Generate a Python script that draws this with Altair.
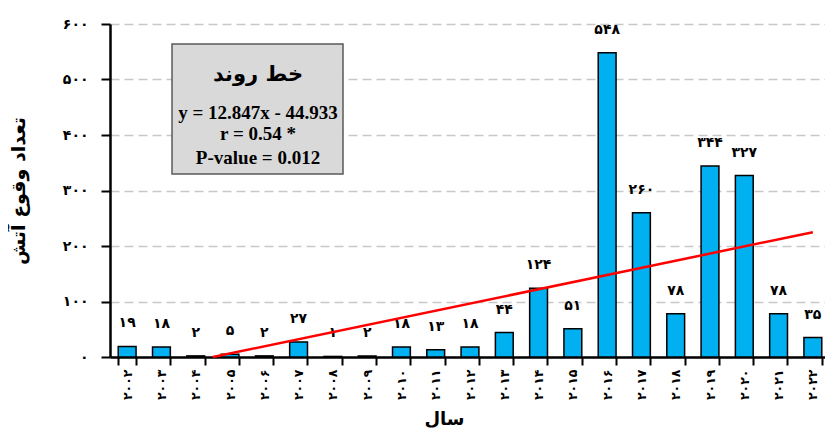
import altair as alt
import pandas as pd

# ---- data ----
years = [2002, 2003, 2004, 2005, 2006, 2007, 2008, 2009, 2010, 2011, 2012,
         2013, 2014, 2015, 2016, 2017, 2018, 2019, 2020, 2021, 2022]
counts = [19, 18, 2, 5, 2, 27, 1, 2, 18, 13, 18,
          44, 124, 51, 548, 260, 78, 344, 327, 78, 35]
y_ticks = [0, 100, 200, 300, 400, 500, 600]

# trend line (y = 12.847x - 44.933), drawn from where it meets zero to the last year
trend_x = [3.5, 21.0]
trend_y = [0.0, 224.9]

box_title = "خط روند"
box_lines = ["y = 12.847x - 44.933", "r = 0.54 *", "P-value = 0.012"]
y_title = "تعداد وقوع آتش"
x_title = "سال"

FA = str.maketrans("0123456789", "۰۱۲۳۴۵۶۷۸۹")


def fa(v):
    return str(v).translate(FA)


df = pd.DataFrame({
    "year_fa": [fa(y) for y in years],
    "count": counts,
    "count_fa": [fa(c) for c in counts],
})
trend = pd.DataFrame({"x": trend_x, "y": trend_y})

label_map = "{" + ",".join("'%d':'%s'" % (t, fa(t)) for t in y_ticks) + "}"

PFONT = "DejaVu Sans"
W, H = 720, 333

x_scale = alt.Scale(paddingInner=0.48, paddingOuter=0.24)
year_sort = [fa(y) for y in years]

x_band = alt.X(
    "year_fa:N",
    sort=year_sort,
    scale=x_scale,
    axis=alt.Axis(
        orient="bottom",
        title=x_title,
        titleFont=PFONT, titleFontSize=18, titleFontWeight="bold",
        titleX=334, titleY=62, titleBaseline="middle", titleColor="black",
        labelAngle=270, labelFont=PFONT, labelFontSize=12.5,
        labelFontWeight="bold", labelColor="black", labelPadding=4,
        tickBand="extent", tickColor="black", tickWidth=2, tickSize=8,
        domainColor="black", domainWidth=2.5, grid=False,
    ),
)

y_enc = alt.Y(
    "count:Q",
    scale=alt.Scale(domain=[0, 600], nice=False),
    axis=alt.Axis(
        values=y_ticks,
        labelExpr=label_map + "[datum.label]",
        title=y_title,
        titleFont=PFONT, titleFontSize=19, titleFontWeight="bold",
        titleColor="black", titleX=-92, titleBaseline="middle",
        labelFont=PFONT, labelFontSize=14, labelFontWeight="bold",
        labelColor="black", labelPadding=13,
        tickColor="black", tickWidth=2, tickSize=9,
        domainColor="black", domainWidth=2.5,
        grid=True, gridColor="#c8c8c8", gridDash=[9, 5], gridWidth=1.5,
    ),
)

bars = alt.Chart(df).mark_bar(
    color="#00b0f0", stroke="black", strokeWidth=1.5
).encode(x=x_band, y=y_enc)

labels = alt.Chart(df).mark_text(
    font=PFONT, fontSize=14, fontWeight="bold", color="black",
    baseline="middle", dy=-23
).encode(
    x=alt.X("year_fa:N", sort=year_sort, scale=x_scale, axis=None),
    y="count:Q",
    text="count_fa:N",
)

line = alt.Chart(trend).mark_line(color="#ff0000", strokeWidth=2.5).encode(
    x=alt.X("x:Q", scale=alt.Scale(domain=[0.5, 21.5], nice=False, zero=False), axis=None),
    y="y:Q",
)

box = alt.Chart(pd.DataFrame({"t": [box_title]})).mark_rect(
    fill="#d9d9d9", stroke="#595959", strokeWidth=1.5
).encode(x=alt.value(62), x2=alt.value(233), y=alt.value(20), y2=alt.value(150))

box_head = alt.Chart(pd.DataFrame({"t": [box_title]})).mark_text(
    font=PFONT, fontSize=21, fontWeight="bold", color="black", baseline="middle"
).encode(x=alt.value(148), y=alt.value(51), text="t:N")

box_texts = []
for s, yy in zip(box_lines, [89, 110, 134]):
    box_texts.append(
        alt.Chart(pd.DataFrame({"t": [s]})).mark_text(
            font="Liberation Serif", fontSize=19, fontWeight="bold",
            color="black", baseline="middle"
        ).encode(x=alt.value(148), y=alt.value(yy), text="t:N")
    )

chart = alt.layer(bars, labels, line, box, box_head, *box_texts).resolve_scale(
    x="independent"
).properties(
    width=W, height=H,
    padding={"left": 102, "top": 16, "right": -5, "bottom": 73},
    autosize=alt.AutoSizeParams(type="none"),
    background="white",
).configure_view(stroke=None)

chart.save("out.html", embed_options={"renderer": "svg", "actions": False})
